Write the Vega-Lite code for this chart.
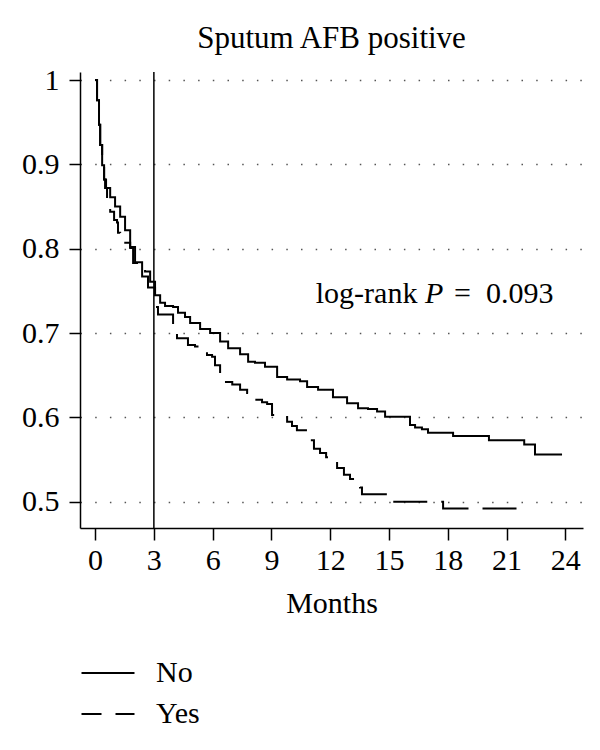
{
  "$schema": "https://vega.github.io/schema/vega-lite/v6.json",
  "width": 503,
  "height": 456,
  "autosize": "none",
  "padding": {"left": 80, "top": 72, "right": 17, "bottom": 222},
  "background": "white",
  "title": {"text": "Sputum AFB positive", "font": "Liberation Serif", "fontSize": 31, "fontWeight": "normal", "color": "black", "anchor": "middle", "offset": 10},
  "config": {"view": {"stroke": null}},
  "datasets": {
    "km": [
      {"group": "No", "month": 0, "surv": 1.0},
      {"group": "No", "month": 0.1, "surv": 0.976},
      {"group": "No", "month": 0.2, "surv": 0.947},
      {"group": "No", "month": 0.26, "surv": 0.923},
      {"group": "No", "month": 0.36, "surv": 0.899},
      {"group": "No", "month": 0.46, "surv": 0.882},
      {"group": "No", "month": 0.56, "surv": 0.872},
      {"group": "No", "month": 0.77, "surv": 0.861},
      {"group": "No", "month": 1.02, "surv": 0.850},
      {"group": "No", "month": 1.28, "surv": 0.838},
      {"group": "No", "month": 1.53, "surv": 0.822},
      {"group": "No", "month": 1.79, "surv": 0.802},
      {"group": "No", "month": 2.04, "surv": 0.784},
      {"group": "No", "month": 2.4, "surv": 0.767},
      {"group": "No", "month": 2.7, "surv": 0.754},
      {"group": "No", "month": 3.06, "surv": 0.745},
      {"group": "No", "month": 3.32, "surv": 0.736},
      {"group": "No", "month": 3.57, "surv": 0.732},
      {"group": "No", "month": 3.98, "surv": 0.731},
      {"group": "No", "month": 4.23, "surv": 0.724},
      {"group": "No", "month": 4.59, "surv": 0.719},
      {"group": "No", "month": 4.85, "surv": 0.712},
      {"group": "No", "month": 5.36, "surv": 0.705},
      {"group": "No", "month": 5.87, "surv": 0.700},
      {"group": "No", "month": 6.38, "surv": 0.690},
      {"group": "No", "month": 6.79, "surv": 0.682},
      {"group": "No", "month": 7.4, "surv": 0.675},
      {"group": "No", "month": 7.81, "surv": 0.666},
      {"group": "No", "month": 8.16, "surv": 0.665},
      {"group": "No", "month": 8.67, "surv": 0.660},
      {"group": "No", "month": 9.29, "surv": 0.648},
      {"group": "No", "month": 9.8, "surv": 0.645},
      {"group": "No", "month": 10.46, "surv": 0.643},
      {"group": "No", "month": 10.82, "surv": 0.636},
      {"group": "No", "month": 11.38, "surv": 0.633},
      {"group": "No", "month": 12.14, "surv": 0.624},
      {"group": "No", "month": 12.86, "surv": 0.617},
      {"group": "No", "month": 13.42, "surv": 0.611},
      {"group": "No", "month": 13.93, "surv": 0.610},
      {"group": "No", "month": 14.39, "surv": 0.607},
      {"group": "No", "month": 14.8, "surv": 0.601},
      {"group": "No", "month": 16.07, "surv": 0.591},
      {"group": "No", "month": 16.33, "surv": 0.588},
      {"group": "No", "month": 16.68, "surv": 0.586},
      {"group": "No", "month": 16.99, "surv": 0.582},
      {"group": "No", "month": 18.27, "surv": 0.578},
      {"group": "No", "month": 20.1, "surv": 0.573},
      {"group": "No", "month": 21.9, "surv": 0.568},
      {"group": "No", "month": 22.45, "surv": 0.556},
      {"group": "No", "month": 23.83, "surv": 0.556},
      {"group": "Yes", "month": 0, "surv": 1.0},
      {"group": "Yes", "month": 0.1, "surv": 0.976},
      {"group": "Yes", "month": 0.2, "surv": 0.947},
      {"group": "Yes", "month": 0.26, "surv": 0.923},
      {"group": "Yes", "month": 0.36, "surv": 0.899},
      {"group": "Yes", "month": 0.46, "surv": 0.882},
      {"group": "Yes", "month": 0.51, "surv": 0.872},
      {"group": "Yes", "month": 0.61, "surv": 0.858},
      {"group": "Yes", "month": 0.77, "surv": 0.844},
      {"group": "Yes", "month": 0.97, "surv": 0.834},
      {"group": "Yes", "month": 1.12, "surv": 0.831},
      {"group": "Yes", "month": 1.17, "surv": 0.819},
      {"group": "Yes", "month": 1.28, "surv": 0.807},
      {"group": "Yes", "month": 1.79, "surv": 0.801},
      {"group": "Yes", "month": 1.94, "surv": 0.783},
      {"group": "Yes", "month": 2.19, "surv": 0.781},
      {"group": "Yes", "month": 2.55, "surv": 0.773},
      {"group": "Yes", "month": 2.81, "surv": 0.761},
      {"group": "Yes", "month": 3.06, "surv": 0.745},
      {"group": "Yes", "month": 3.16, "surv": 0.731},
      {"group": "Yes", "month": 3.21, "surv": 0.722},
      {"group": "Yes", "month": 3.98, "surv": 0.704},
      {"group": "Yes", "month": 4.18, "surv": 0.694},
      {"group": "Yes", "month": 4.74, "surv": 0.686},
      {"group": "Yes", "month": 5.1, "surv": 0.684},
      {"group": "Yes", "month": 5.71, "surv": 0.674},
      {"group": "Yes", "month": 5.97, "surv": 0.672},
      {"group": "Yes", "month": 6.12, "surv": 0.662},
      {"group": "Yes", "month": 6.38, "surv": 0.648},
      {"group": "Yes", "month": 6.68, "surv": 0.642},
      {"group": "Yes", "month": 7.0, "surv": 0.639},
      {"group": "Yes", "month": 7.4, "surv": 0.633},
      {"group": "Yes", "month": 7.76, "surv": 0.629},
      {"group": "Yes", "month": 7.81, "surv": 0.621},
      {"group": "Yes", "month": 8.52, "surv": 0.618},
      {"group": "Yes", "month": 8.78, "surv": 0.616},
      {"group": "Yes", "month": 9.03, "surv": 0.603},
      {"group": "Yes", "month": 9.8, "surv": 0.595},
      {"group": "Yes", "month": 10.05, "surv": 0.590},
      {"group": "Yes", "month": 10.3, "surv": 0.585},
      {"group": "Yes", "month": 10.97, "surv": 0.573},
      {"group": "Yes", "month": 11.17, "surv": 0.563},
      {"group": "Yes", "month": 11.48, "surv": 0.558},
      {"group": "Yes", "month": 11.79, "surv": 0.553},
      {"group": "Yes", "month": 12.09, "surv": 0.550},
      {"group": "Yes", "month": 12.35, "surv": 0.540},
      {"group": "Yes", "month": 12.7, "surv": 0.532},
      {"group": "Yes", "month": 13.01, "surv": 0.527},
      {"group": "Yes", "month": 13.37, "surv": 0.524},
      {"group": "Yes", "month": 13.52, "surv": 0.517},
      {"group": "Yes", "month": 13.62, "surv": 0.509},
      {"group": "Yes", "month": 14.95, "surv": 0.500},
      {"group": "Yes", "month": 17.76, "surv": 0.492},
      {"group": "Yes", "month": 22.2, "surv": 0.492}
    ],
    "ref": [{"month": 3}],
    "note": [
      {"month": 16.45, "surv": 0.736, "text": "log-rank", "part": "a"},
      {"month": 17.3, "surv": 0.736, "text": "P", "part": "b"},
      {"month": 18.75, "surv": 0.736, "text": "=", "part": "c"},
      {"month": 19.95, "surv": 0.736, "text": "0.093", "part": "d"}
    ]
  },
  "layer": [
    {
      "data": {"name": "km"},
      "mark": {"type": "line", "interpolate": "step-after", "strokeWidth": 2, "color": "black"},
      "encoding": {
        "x": {
          "field": "month", "type": "quantitative",
          "scale": {"domain": [-0.77, 24.9], "nice": false, "zero": false},
          "axis": {
            "values": [0, 3, 6, 9, 12, 15, 18, 21, 24],
            "title": "Months", "grid": false,
            "domainColor": "black", "domainWidth": 1.5,
            "tickColor": "black", "tickWidth": 1.5, "tickSize": 12,
            "labelFont": "Liberation Serif", "labelFontSize": 30, "labelColor": "black", "labelPadding": 5,
            "titleFont": "Liberation Serif", "titleFontSize": 30, "titleFontWeight": "normal", "titleColor": "black", "titlePadding": 13
          }
        },
        "y": {
          "field": "surv", "type": "quantitative",
          "scale": {"domain": [0.469, 1.0095], "nice": false, "zero": false},
          "axis": {
            "values": [0.5, 0.6, 0.7, 0.8, 0.9, 1],
            "format": "~g",
            "title": null,
            "grid": true, "gridDash": [1.5, 13.2], "gridColor": "#555", "gridWidth": 1.5,
            "domainColor": "black", "domainWidth": 1.5,
            "tickColor": "black", "tickWidth": 1.5, "tickSize": 11,
            "labelFont": "Liberation Serif", "labelFontSize": 30, "labelColor": "black", "labelPadding": 10
          }
        },
        "strokeDash": {
          "field": "group", "type": "nominal",
          "scale": {"domain": ["No", "Yes"], "range": [[1, 0], [34, 14]]},
          "legend": {
            "orient": "none", "legendX": 13, "legendY": 586, "direction": "vertical",
            "title": null, "padding": 0,
            "symbolType": "M-2,0H2", "symbolSize": 702, "symbolStrokeWidth": 2, "symbolStrokeColor": "black",
            "symbolDashOffset": 14,
            "labelFont": "Liberation Serif", "labelFontSize": 30, "labelColor": "black", "labelOffset": 33,
            "rowPadding": 11
          }
        }
      }
    },
    {
      "data": {"name": "ref"},
      "mark": {"type": "rule", "color": "black", "strokeWidth": 1.5},
      "encoding": {"x": {"field": "month", "type": "quantitative"}}
    },
    {
      "data": {"name": "note"},
      "transform": [{"filter": "datum.part === 'a'"}],
      "mark": {"type": "text", "align": "right", "baseline": "alphabetic", "font": "Liberation Serif", "fontSize": 30, "color": "black"},
      "encoding": {"x": {"field": "month", "type": "quantitative"}, "y": {"field": "surv", "type": "quantitative"}, "text": {"field": "text"}}
    },
    {
      "data": {"name": "note"},
      "transform": [{"filter": "datum.part === 'b'"}],
      "mark": {"type": "text", "align": "center", "baseline": "alphabetic", "font": "Liberation Serif", "fontSize": 30, "fontStyle": "italic", "color": "black"},
      "encoding": {"x": {"field": "month", "type": "quantitative"}, "y": {"field": "surv", "type": "quantitative"}, "text": {"field": "text"}}
    },
    {
      "data": {"name": "note"},
      "transform": [{"filter": "datum.part === 'c'"}],
      "mark": {"type": "text", "align": "center", "baseline": "alphabetic", "font": "Liberation Serif", "fontSize": 30, "color": "black"},
      "encoding": {"x": {"field": "month", "type": "quantitative"}, "y": {"field": "surv", "type": "quantitative"}, "text": {"field": "text"}}
    },
    {
      "data": {"name": "note"},
      "transform": [{"filter": "datum.part === 'd'"}],
      "mark": {"type": "text", "align": "left", "baseline": "alphabetic", "font": "Liberation Serif", "fontSize": 30, "color": "black"},
      "encoding": {"x": {"field": "month", "type": "quantitative"}, "y": {"field": "surv", "type": "quantitative"}, "text": {"field": "text"}}
    }
  ]
}
